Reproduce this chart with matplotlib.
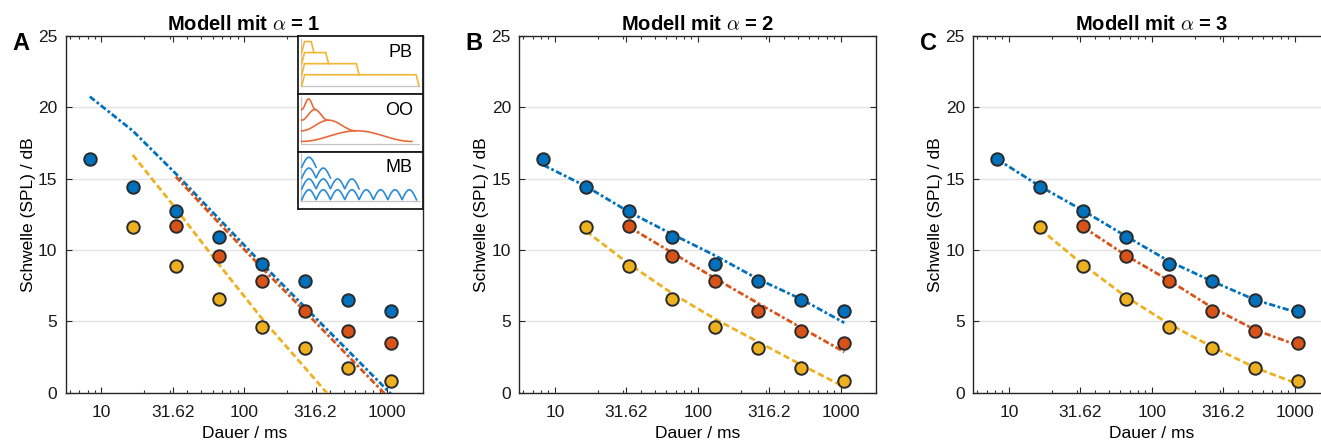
#==============================================================================#
#        Schwellen vs. Dauer, drei Modelle (alpha = 1, 2, 3)                   #
#==============================================================================#
import numpy as np
import matplotlib
matplotlib.use('Agg')
import matplotlib.pyplot as plt
from matplotlib.ticker import FixedLocator, LogLocator, NullFormatter

plt.rcParams['font.family'] = ['Liberation Sans', 'DejaVu Sans']
plt.rcParams['mathtext.fontset'] = 'cm'
plt.rcParams['lines.scale_dashes'] = False

#==============================================================================#
#                                   Daten                                      #
#==============================================================================#
dauer = [8.3, 16.6, 33.2, 66.4, 133, 266, 531, 1062]   # ms

# gemessene Schwellen (MB: alle Dauern, PB: ab 16 ms, OO: ab 32 ms)
mb_daten = [16.4, 14.45, 12.75, 10.9, 9.05, 7.8, 6.5, 5.75]
pb_daten = [11.6, 8.9, 6.55, 4.6, 3.1, 1.7, 0.85]
oo_daten = [11.65, 9.55, 7.8, 5.7, 4.35, 3.45]

# Modellvorhersagen
mb_modell = {1: [20.75, 18.35, 15.35, 12.2, 9.05, 6.0, 2.97, -0.07],
             2: [15.95, 14.45, 12.65, 11.1, 9.6, 7.95, 6.55, 4.9],
             3: [16.35, 14.45, 12.75, 10.95, 9.2, 7.8, 6.5, 5.6]}
pb_modell = {1: [16.66, 12.9, 9.0, 5.2, 1.75, -1.7, -5.1],
             2: [11.3, 9.0, 6.95, 5.15, 3.55, 1.95, 0.4],
             3: [11.45, 8.95, 6.7, 4.8, 3.2, 1.75, 0.6]}
oo_modell = {1: [15.14, 11.9, 8.75, 5.7, 2.6, -0.5],
             2: [11.6, 9.8, 8.0, 6.25, 4.55, 2.85],
             3: [11.6, 9.6, 7.85, 5.95, 4.4, 3.3]}

x_ticks = [10, 31.62, 100, 316.2, 1000]
x_ticklabels = ['10', '31.62', '100', '316.2', '1000']
y_ticks = [0, 5, 10, 15, 20, 25]
buchstaben = ['A', 'B', 'C']
alphas = [1, 2, 3]

# Schema im Inset (relative Breiten)
pb_breiten = [0.94, 0.46, 0.215, 0.098]
oo_breiten = [0.883, 0.432, 0.208, 0.11]
mb_buckel = [8, 4, 2, 1]

#==============================================================================#
#                                  Stil                                        #
#==============================================================================#
c_mb = '#0072BD'
c_oo = '#D95319'
c_pb = '#EDB120'
c_rand = '#262626'
dashdot = (0, (4.5, 1.8, 2.0, 1.8))
dashed = (0, (4.6, 2.4))

W, H = 1321, 443
def px_rect(left, top, width, height):
    return [left / W, 1 - (top + height) / H, width / W, height / H]

fig = plt.figure(figsize=(W / 100, H / 100), dpi=100)

links = [65.7, 519.3, 973.3]
for i in range(3):
    ax = fig.add_axes(px_rect(links[i], 36, 357, 356.7))
    a = alphas[i]
    ax.plot(dauer, mb_modell[a], color=c_mb, lw=2.0, ls=dashdot, zorder=3)
    ax.plot(dauer[2:], oo_modell[a], color=c_oo, lw=2.0, ls=dashdot, zorder=3)
    ax.plot(dauer[1:], pb_modell[a], color=c_pb, lw=2.0, ls=dashed, zorder=3)
    for xs, ys, c in [(dauer, mb_daten, c_mb), (dauer[2:], oo_daten, c_oo),
                      (dauer[1:], pb_daten, c_pb)]:
        ax.plot(xs, ys, 'o', ms=9.0, mfc=c, mec='#2a2a2a', mew=1.4,
                zorder=4, clip_on=False)
    ax.set_xscale('log')
    ax.set_xlim(10 ** 0.75, 10 ** 3.25)
    ax.set_ylim(0, 25)
    ax.xaxis.set_major_locator(FixedLocator(x_ticks))
    ax.set_xticklabels(x_ticklabels)
    ax.xaxis.set_minor_locator(LogLocator(base=10, subs=np.arange(2, 10)))
    ax.xaxis.set_minor_formatter(NullFormatter())
    ax.set_yticks(y_ticks)
    ax.tick_params(which='both', direction='in', top=True, right=True,
                   colors=c_rand, labelsize=12.5, width=0.8)
    ax.tick_params(which='major', length=4)
    ax.tick_params(which='minor', length=2)
    ax.tick_params(axis='x', pad=9, labelcolor='#1a1a1a')
    ax.tick_params(axis='y', pad=6, labelcolor='#1a1a1a')
    for s in ax.spines.values():
        s.set_color(c_rand)
        s.set_linewidth(1.0)
    ax.yaxis.grid(True, color='#e3e3e3', lw=1.0)
    ax.set_axisbelow(True)
    ax.set_xlabel('Dauer / ms', fontsize=12.5, labelpad=4)
    ax.set_ylabel('Schwelle (SPL) / dB', fontsize=12.5, labelpad=1.5)
    ax.set_title(r'Modell mit $\alpha$ = %d' % a, fontsize=14.5,
                 fontweight='bold', pad=4)
    fig.text((links[i] - 45) / W, 1 - 44 / H, buchstaben[i], fontsize=17,
             fontweight='bold', ha='center', va='center')

#==============================================================================#
#                     Inset: Schema der Reize (Panel A)                        #
#==============================================================================#
grau = '#c4c4c4'
boxen = [(35.7, 58.3), (94.0, 57.5), (151.5, 57.0)]
namen = ['PB', 'OO', 'MB']
for k, (top, h) in enumerate(boxen):
    ins = fig.add_axes(px_rect(298, top, 124.7, h))
    ins.set_xlim(0, 1)
    ins.set_ylim(0, 1)
    ins.set_xticks([])
    ins.set_yticks([])
    for s in ins.spines.values():
        s.set_color('#1a1a1a')
        s.set_linewidth(1.3)
    ins.plot([0.025, 0.025], [0.13, 0.95], color=grau, lw=0.9)
    ins.plot([0.025, 0.97], [0.13, 0.13], color=grau, lw=0.9)
    ins.text(0.92, 0.72, namen[k], fontsize=13, ha='right', va='center')
    x0 = 0.03
    if namen[k] == 'PB':
        for j, w in enumerate(pb_breiten):
            b = 0.14 + j * 0.19
            r = 0.022
            ins.plot([x0, x0 + r, x0 + w - r, x0 + w], [b, b + 0.19, b + 0.19, b],
                     color='#F2B732', lw=1.2)
    elif namen[k] == 'OO':
        for j, w in enumerate(oo_breiten):
            b = 0.175 + j * 0.185
            t = np.linspace(0, 1, 100)
            ins.plot(x0 + w * t, b + 0.185 * np.sin(np.pi * t) ** 2,
                     color='#E86A3A', lw=1.2)
    else:
        p = 0.115
        for j, n in enumerate(mb_buckel):
            b = 0.154 + j * 0.19
            t = np.linspace(0, n * p, 60 * n)
            ins.plot(x0 + t, b + 0.175 * np.abs(np.sin(np.pi * t / p)),
                     color='#2A8BD8', lw=1.2)

fig.savefig('out.png', dpi=100)
plt.close()
